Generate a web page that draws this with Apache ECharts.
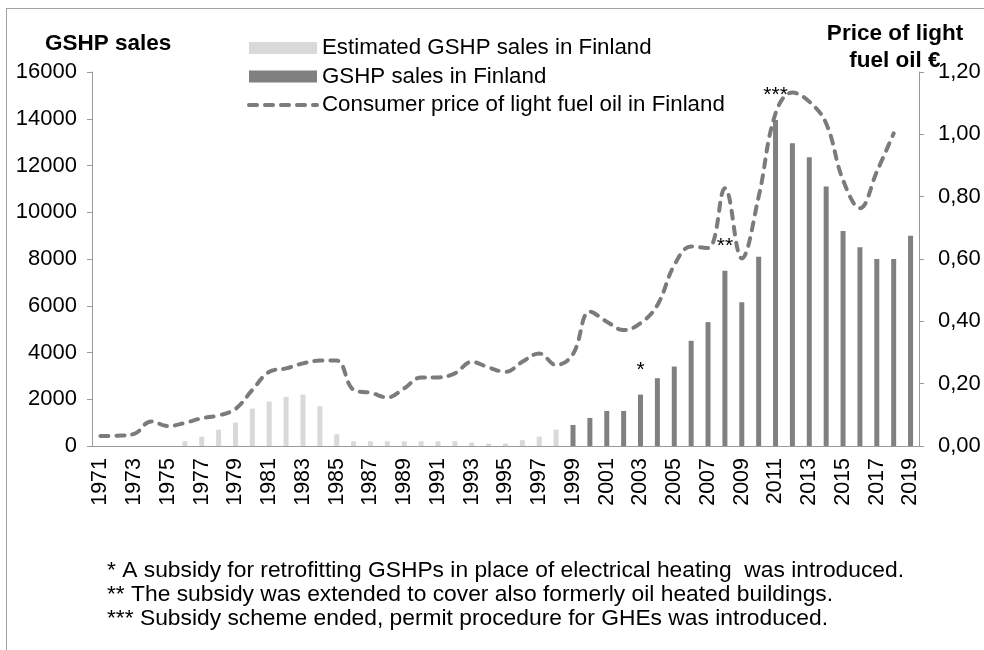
<!DOCTYPE html>
<html>
<head>
<meta charset="utf-8">
<script src="https://cdn.jsdelivr.net/npm/echarts@6/dist/echarts.min.js"></script>
<style>
  html, body { margin: 0; padding: 0; background: #fff; }
  #chart { width: 984px; height: 650px; }
</style>
</head>
<body>
<div id="chart"></div>
<script>
var years = [];
for (var y = 1971; y <= 2019; y++) years.push(String(y));

// estimated sales (light bars), 1971-2019
var estimatedSales = [
  null, null, null, null, null, 200, 400, 700, 1000, 1600,
  1900, 2100, 2200, 1700, 500, 200, 200, 200, 200, 200,
  200, 200, 150, 100, 100, 250, 400, 700, null, null,
  null, null, null, null, null, null, null, null, null, null,
  null, null, null, null, null, null, null, null, null
];

// reported sales (dark bars), 1971-2019
var gshpSales = [
  null, null, null, null, null, null, null, null, null, null,
  null, null, null, null, null, null, null, null, null, null,
  null, null, null, null, null, null, null, null, 900, 1200,
  1500, 1500, 2200, 2900, 3400, 4500, 5300, 7500, 6150, 8100,
  13950, 12950, 12350, 11100, 9200, 8500, 8000, 8000, 9000
];

// consumer price of light fuel oil, EUR, 1971-2018
var oilPrice = [
  0.032, 0.033, 0.039, 0.079, 0.064, 0.074, 0.089, 0.098, 0.119, 0.180,
  0.238, 0.249, 0.265, 0.274, 0.274, 0.180, 0.171, 0.156, 0.185, 0.220,
  0.220, 0.233, 0.270, 0.252, 0.238, 0.270, 0.297, 0.260, 0.295, 0.431,
  0.399, 0.372, 0.394, 0.452, 0.580, 0.640, 0.635, 0.827, 0.602, 0.800,
  1.067, 1.134, 1.105, 1.035, 0.853, 0.763, 0.880, 1.003, null
];

// asterisk notes placed above bars
var noteMarks = { '2003': '*', '2008': '**', '2011': '***' };

var footnotes = [
  '* A subsidy for retrofitting GSHPs in place of electrical heating  was introduced.',
  '** The subsidy was extended to cover also formerly oil heated buildings.',
  '*** Subsidy scheme ended, permit procedure for GHEs was introduced.'
];

var font = 'Liberation Sans, Arial, sans-serif';
var axisGray = '#9a9a9a';
var lineGray = '#7b7b7b';
var dashStyle = { color: lineGray, width: 4, type: [8, 8], cap: 'round' };

var chart = echarts.init(document.getElementById('chart'));

var option = {
  animation: false,
  textStyle: { fontFamily: font, color: '#000' },
  grid: { left: 92, right: 65, top: 72, bottom: 204 },
  legend: {
    orient: 'vertical',
    left: 242,
    top: 32,
    itemWidth: 68,
    itemHeight: 12,
    itemGap: 6.5,
    textStyle: { fontFamily: font, fontSize: 22.3, color: '#000' },
    data: [
      { name: 'Estimated GSHP sales in Finland', icon: 'rect' },
      { name: 'GSHP sales in Finland', icon: 'rect' },
      {
        name: 'Consumer price of light fuel oil in Finland',
        itemStyle: { opacity: 0 },
        lineStyle: dashStyle
      }
    ]
  },
  xAxis: {
    type: 'category',
    data: years,
    axisLine: { lineStyle: { color: axisGray } },
    axisTick: { interval: 0, length: 5, lineStyle: { color: axisGray } },
    axisLabel: {
      interval: 1,
      rotate: 90,
      margin: 12,
      fontSize: 21.5,
      color: '#000',
      fontFamily: font
    }
  },
  yAxis: [
    {
      type: 'value',
      min: 0,
      max: 16000,
      interval: 2000,
      splitLine: { show: false },
      axisLine: { show: true, lineStyle: { color: axisGray } },
      axisTick: { show: true, length: 5, lineStyle: { color: axisGray } },
      axisLabel: {
        fontSize: 22, color: '#000', margin: 15, fontFamily: font,
        formatter: function (v) { return String(v); }
      }
    },
    {
      type: 'value',
      min: 0,
      max: 1.2,
      interval: 0.2,
      splitLine: { show: false },
      axisLine: { show: true, lineStyle: { color: axisGray } },
      axisTick: { show: true, length: 5, lineStyle: { color: axisGray } },
      axisLabel: {
        fontSize: 22,
        color: '#000',
        margin: 19,
        fontFamily: font,
        formatter: function (v) { return v.toFixed(2).replace('.', ','); }
      }
    }
  ],
  series: [
    {
      name: 'Estimated GSHP sales in Finland',
      type: 'bar',
      data: estimatedSales,
      barWidth: 5,
      barGap: '-100%',
      itemStyle: { color: '#d9d9d9' }
    },
    {
      name: 'GSHP sales in Finland',
      type: 'bar',
      data: gshpSales,
      barWidth: 5,
      itemStyle: { color: '#808080' },
      label: {
        show: true,
        position: 'top',
        distance: 14,
        fontSize: 21,
        color: '#000',
        fontFamily: font,
        formatter: function (p) { return noteMarks[p.name] || ''; }
      }
    },
    {
      name: 'Consumer price of light fuel oil in Finland',
      type: 'line',
      yAxisIndex: 1,
      data: oilPrice,
      smooth: 0.4,
      symbol: 'none',
      lineStyle: dashStyle,
      itemStyle: { color: lineGray },
      z: 3
    }
  ],
  graphic: [
    { type: 'line', shape: { x1: 6, y1: 8.5, x2: 984, y2: 8.5 }, style: { stroke: '#a0a0a0', lineWidth: 1 } },
    { type: 'line', shape: { x1: 6.5, y1: 8, x2: 6.5, y2: 650 }, style: { stroke: '#a0a0a0', lineWidth: 1 } },
    {
      type: 'text', left: 45, top: 32,
      style: { text: 'GSHP sales', font: 'bold 22.5px ' + font, fill: '#000' }
    },
    {
      type: 'text', x: 895, y: 20,
      style: {
        text: 'Price of light\nfuel oil €', font: 'bold 22.5px ' + font, fill: '#000',
        align: 'center', lineHeight: 27
      }
    },
    {
      type: 'text', left: 107, top: 559,
      style: { text: footnotes.join('\n'), font: '22.8px ' + font, fill: '#000', lineHeight: 24 }
    }
  ]
};

chart.setOption(option);
</script>
</body>
</html>
